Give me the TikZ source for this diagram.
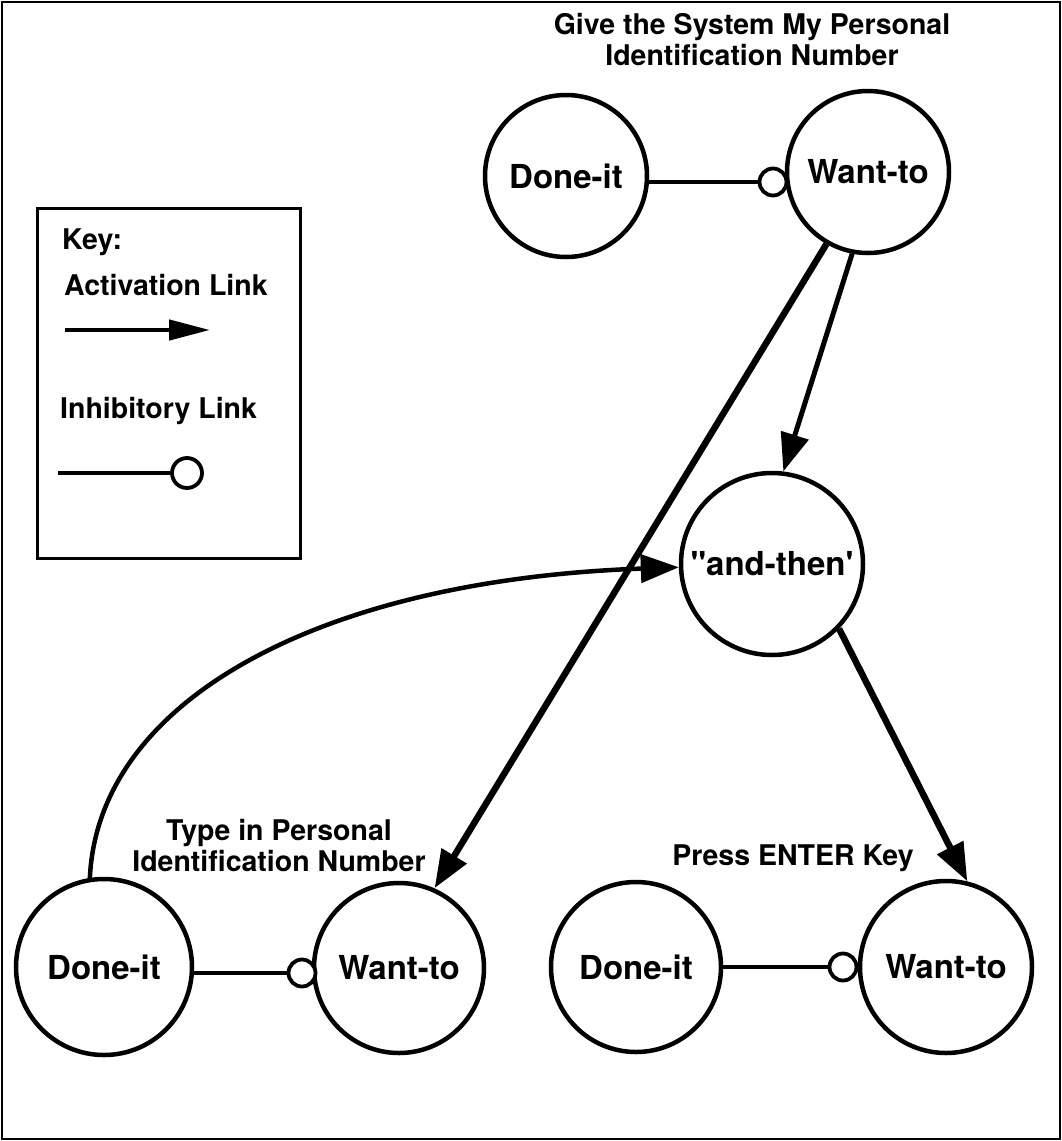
\documentclass[tikz,border=0pt]{standalone}
\usepackage{fontspec}
\setmainfont{TeX Gyre Heros}
\usetikzlibrary{arrows.meta}
\begin{document}
\begin{tikzpicture}[x=1pt,y=-1pt,
  state/.style={circle, draw, line width=4.5pt, inner sep=0pt, font=\fontsize{33}{36}\selectfont\bfseries},
  lbl/.style={inner sep=0pt, align=center, font=\fontsize{28.5}{31}\selectfont\bfseries},
  keytext/.style={inner sep=0pt, anchor=west, font=\fontsize{28.5}{31}\selectfont\bfseries},
  inh/.style={circle, draw, line width=3.8pt, fill=white, minimum size=27pt, inner sep=0pt},
  inhline/.style={line width=3.8pt},
  act/.style={line width=6.5pt, -{Triangle[length=38pt,width=28pt]}},
  keyarrow/.style={line width=4.5pt, -{Triangle[length=41pt,width=20pt]}}
]
\useasboundingbox (0,0) rectangle (1062,1141);
\draw[line width=2.5pt] (2,2) rectangle (1060,1139);

% title
\node[lbl] (title) at (752,40) {Give the System My Personal\\Identification Number};

% top pair
\node[state, minimum size=162pt] (td) at (566,176) {Done-it};
\node[state, minimum size=162pt] (tw) at (868,172) {Want-to};
\node[inh] (i1) at (773,182) {};
\draw[inhline] (td.east |- i1.west) -- (i1.west);

% key
\draw[line width=3pt] (37,208) rectangle (300,558);
\node[keytext] (k0) at (62,242) {Key:};
\node[keytext] (k1) at (64,285) {Activation Link};
\coordinate (ka) at (65,330);
\coordinate (kb) at (210,330);
\draw[keyarrow] (ka) -- (kb);
\node[keytext] (k2) at (60,411) {Inhibitory Link};
\coordinate (kc) at (58,473);
\node[inh, minimum size=30pt] (kd) at (187,473) {};
\draw[inhline] (kc) -- (kd.west);

% and-then
\node[state, minimum size=182pt] (at) at (772,564) {\textquotedbl and-then\textquotesingle};

% bottom left pair
\node[lbl] (tlab) at (279,846) {Type in Personal\\Identification Number};
\node[state, minimum size=176pt] (bd1) at (104,967) {Done-it};
\node[state, minimum size=170pt] (bw1) at (399,968) {Want-to};
\node[inh] (i2) at (302,973) {};
\draw[inhline] (bd1.east |- i2.west) -- (i2.west);

% bottom right pair
\node[lbl] (plab) at (793,858) {Press ENTER Key};
\node[state, minimum size=170pt] (bd2) at (636,967) {Done-it};
\node[state, minimum size=172pt] (bw2) at (946,967) {Want-to};
\node[inh] (i3) at (843,967) {};
\draw[inhline] (bd2.east |- i3.west) -- (i3.west);

% activation links
\draw[act] (tw.240) -- (bw1.66);
\draw[act, line width=5pt] (tw.259) -- (at.83);
\draw[act] (at.-44) -- (bw2.76);
\draw[act, line width=4.5pt] (bd1.99) .. controls (98,700) and (320,580) .. (at.182);
\end{tikzpicture}
\end{document}
